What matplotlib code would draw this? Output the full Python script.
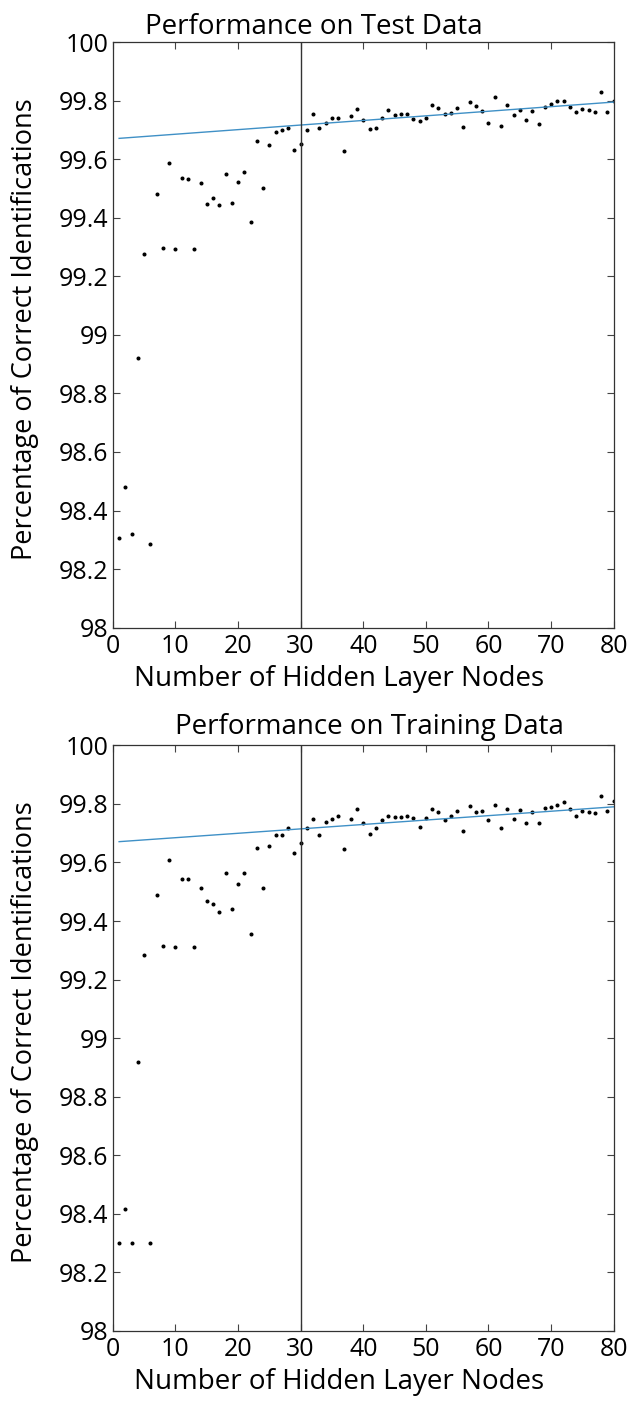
import matplotlib
matplotlib.use("Agg")
import matplotlib.pyplot as plt

# hidden layer sizes 1..80
nodes = list(range(1, 81))

test_acc = [
    98.305, 98.48, 98.32, 98.92, 99.275, 98.284, 99.48, 99.296, 99.588, 99.292,
    99.535, 99.532, 99.292, 99.518, 99.446, 99.467, 99.445, 99.548, 99.45, 99.521,
    99.556, 99.384, 99.661, 99.503, 99.65, 99.692, 99.701, 99.706, 99.63, 99.651,
    99.699, 99.754, 99.705, 99.723, 99.74, 99.742, 99.628, 99.749, 99.772, 99.735,
    99.702, 99.706, 99.740, 99.768, 99.752, 99.754, 99.754, 99.737, 99.729, 99.740,
    99.785, 99.774, 99.755, 99.759, 99.773, 99.709, 99.794, 99.780, 99.766, 99.725,
    99.811, 99.713, 99.784, 99.751, 99.768, 99.733, 99.763, 99.721, 99.778, 99.788,
    99.800, 99.800, 99.777, 99.761, 99.771, 99.767, 99.762, 99.828, 99.761, 99.800,
]

train_acc = [
    98.300, 98.415, 98.300, 98.917, 99.285, 98.300, 99.490, 99.313, 99.607, 99.310,
    99.543, 99.543, 99.310, 99.514, 99.468, 99.458, 99.432, 99.565, 99.442, 99.526,
    99.565, 99.354, 99.649, 99.514, 99.656, 99.695, 99.695, 99.718, 99.633, 99.665,
    99.719, 99.750, 99.693, 99.738, 99.748, 99.760, 99.647, 99.747, 99.781, 99.735,
    99.696, 99.717, 99.745, 99.760, 99.755, 99.754, 99.757, 99.751, 99.720, 99.753,
    99.784, 99.771, 99.744, 99.757, 99.776, 99.709, 99.794, 99.774, 99.776, 99.744,
    99.797, 99.716, 99.784, 99.750, 99.779, 99.735, 99.772, 99.735, 99.785, 99.789,
    99.797, 99.805, 99.782, 99.758, 99.776, 99.773, 99.769, 99.827, 99.776, 99.809,
]

# linear fit endpoints
fit_x = [1, 80]
test_fit = [99.671, 99.795]
train_fit = [99.671, 99.790]

cutoff = 30

yticks = [98, 98.2, 98.4, 98.6, 98.8, 99, 99.2, 99.4, 99.6, 99.8, 100]
ytick_labels = ['98', '98.2', '98.4', '98.6', '98.8', '99',
                '99.2', '99.4', '99.6', '99.8', '100']

plt.rcParams['font.family'] = ['Open Sans', 'DejaVu Sans']

fig = plt.figure(figsize=(6.34, 14.01), dpi=100)
ax1 = fig.add_axes([0.178, 0.552, 0.790, 0.418])
ax2 = fig.add_axes([0.178, 0.050, 0.790, 0.418])


def draw(ax, acc, fit, title, title_x, title_y):
    ax.plot(nodes, acc, 'k.', markersize=3.8)
    ax.plot(fit_x, fit, color='#3f90c6', linewidth=1.0)
    ax.axvline(cutoff, color='#333333', linewidth=1.0)
    ax.set_xlim(0, 80)
    ax.set_ylim(98, 100)
    ax.set_xticks(range(0, 81, 10))
    ax.set_yticks(yticks)
    ax.set_yticklabels(ytick_labels)
    ax.tick_params(direction='in', length=5, width=0.8, top=True, right=True,
                   labelsize=18, color='#444444')
    ax.tick_params(axis='x', pad=4.5)
    ax.tick_params(axis='y', pad=3)
    for s in ax.spines.values():
        s.set_linewidth(0.9)
        s.set_color('#333333')
    ax.set_xlabel('Number of Hidden Layer Nodes', fontsize=20)
    ax.xaxis.set_label_coords(0.4525, -0.064)
    ax.set_ylabel('Percentage of Correct Identifications', fontsize=19.5)
    ax.yaxis.set_label_coords(-0.148, 0.51)
    ax.text(title_x, title_y, title, fontsize=20, ha='center', va='baseline',
            transform=ax.transAxes)


draw(ax1, test_acc, test_fit, 'Performance on Test Data', 0.401, 1.013)
draw(ax2, train_acc, train_fit, 'Performance on Training Data', 0.513, 1.019)

fig.savefig('out.png', dpi=100)
